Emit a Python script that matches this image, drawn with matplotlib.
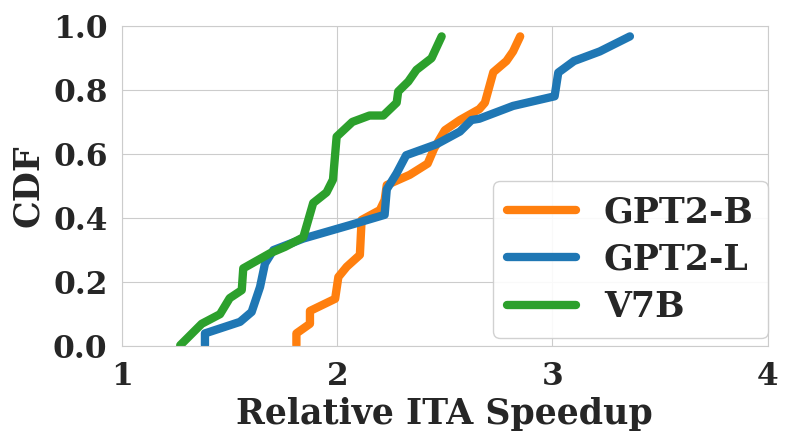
import matplotlib

matplotlib.use("Agg")
import matplotlib.pyplot as plt
import seaborn as sns

# GPT2-B
gpt2b_x = [1.81, 1.81, 1.873, 1.873, 1.99, 2.005, 2.044, 2.105, 2.113, 2.198, 2.22, 2.23,
           2.337, 2.42, 2.45, 2.50, 2.57, 2.66, 2.686, 2.725, 2.786, 2.817, 2.85]
gpt2b_y = [0.003, 0.04, 0.07, 0.11, 0.148, 0.216, 0.248, 0.285, 0.394, 0.425, 0.456, 0.503,
           0.535, 0.57, 0.617, 0.674, 0.706, 0.74, 0.76, 0.855, 0.89, 0.92, 0.967]

# GPT2-L
gpt2l_x = [1.385, 1.385, 1.548, 1.602, 1.641, 1.664, 1.703, 1.842, 2.059, 2.22, 2.23, 2.276,
           2.32, 2.46, 2.57, 2.624, 2.66, 2.817, 3.01, 3.027, 3.10, 3.22, 3.36]
gpt2l_y = [0.003, 0.04, 0.076, 0.107, 0.185, 0.258, 0.30, 0.336, 0.378, 0.41, 0.49, 0.54,
           0.596, 0.63, 0.67, 0.706, 0.71, 0.75, 0.78, 0.854, 0.89, 0.92, 0.967]

# V7B
v7b_x = [1.27, 1.37, 1.455, 1.50, 1.556, 1.563, 1.687, 1.757, 1.842, 1.888, 1.95, 1.98,
         1.997, 2.07, 2.15, 2.214, 2.276, 2.283, 2.33, 2.368, 2.438, 2.485]
v7b_y = [0.003, 0.07, 0.10, 0.15, 0.175, 0.243, 0.29, 0.31, 0.34, 0.447, 0.48, 0.52,
         0.654, 0.70, 0.72, 0.72, 0.76, 0.795, 0.826, 0.8625, 0.899, 0.967]

sns.set_style("whitegrid")
plt.rcParams["font.family"] = ["DejaVu Serif"]
plt.rcParams["font.weight"] = "bold"

fig = plt.figure(figsize=(7.93, 4.45), dpi=100)
ax = fig.add_axes([0.154, 0.222, 0.814, 0.72])

lw = 6
ax.plot(gpt2b_x, gpt2b_y, color="#ff7f0e", lw=lw, label="GPT2-B", solid_capstyle="round")
ax.plot(gpt2l_x, gpt2l_y, color="#1f77b4", lw=lw, label="GPT2-L", solid_capstyle="round")
ax.plot(v7b_x, v7b_y, color="#2ca02c", lw=lw, label="V7B", solid_capstyle="round")

ax.set_xlim(1, 4)
ax.set_ylim(0, 1)
ax.set_xticks([1, 2, 3, 4])
ax.set_yticks([0.0, 0.2, 0.4, 0.6, 0.8, 1.0])
ax.set_yticklabels(["0.0", "0.2", "0.4", "0.6", "0.8", "1.0"])
ax.tick_params(labelsize=22.5, pad=7)
for lab in ax.get_xticklabels() + ax.get_yticklabels():
    lab.set_fontweight("bold")
ax.set_xlabel("Relative ITA Speedup", fontsize=25, fontweight="bold", labelpad=4)
ax.set_ylabel("CDF", fontsize=25, fontweight="bold", labelpad=6)

ax.legend(loc="lower right", bbox_to_anchor=(1.0, 0.027), borderaxespad=0,
          labelspacing=0.38, prop={"size": 25, "weight": "bold"}, framealpha=0.9)

fig.savefig("out.png", dpi=100)
